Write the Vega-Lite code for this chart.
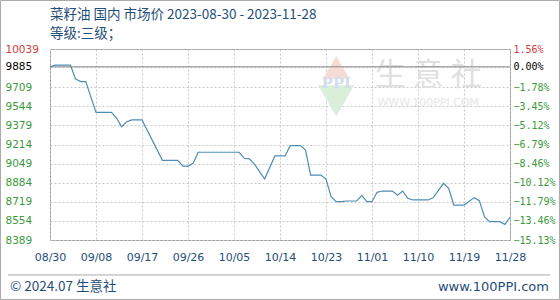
{
  "$schema": "https://vega.github.io/schema/vega-lite/v6.json",
  "width": 460,
  "height": 191,
  "autosize": {"type": "none"},
  "padding": {"left": 50, "top": 49, "right": 50, "bottom": 60},
  "background": "#ffffff",
  "title": {
    "text": "菜籽油 国内 市场价 2023-08-30 - 2023-11-28",
    "subtitle": "等级:三级；",
    "anchor": "start",
    "frame": "group",
    "font": "Noto Sans CJK SC",
    "fontSize": 13.5,
    "fontWeight": "normal",
    "color": "#1f4e79",
    "subtitleFont": "Noto Sans CJK SC",
    "subtitleFontSize": 13.5,
    "subtitleColor": "#1f4e79",
    "subtitlePadding": 6,
    "offset": -41
  },
  "config": {"view": {"stroke": "#999999"}},
  "layer": [
    {
      "data": {"values": [
        {"date": "2023-08-30T00:00", "price": 9885},
        {"date": "2023-08-31T00:00", "price": 9900},
        {"date": "2023-09-03T00:00", "price": 9900},
        {"date": "2023-09-04T00:00", "price": 9780},
        {"date": "2023-09-05T00:00", "price": 9757},
        {"date": "2023-09-06T00:00", "price": 9757},
        {"date": "2023-09-08T00:00", "price": 9492},
        {"date": "2023-09-11T00:00", "price": 9492},
        {"date": "2023-09-12T00:00", "price": 9445},
        {"date": "2023-09-13T00:00", "price": 9368},
        {"date": "2023-09-14T00:00", "price": 9411},
        {"date": "2023-09-15T00:00", "price": 9426},
        {"date": "2023-09-17T00:00", "price": 9426},
        {"date": "2023-09-21T00:00", "price": 9077},
        {"date": "2023-09-24T00:00", "price": 9077},
        {"date": "2023-09-25T00:00", "price": 9028},
        {"date": "2023-09-26T00:00", "price": 9028},
        {"date": "2023-09-27T00:00", "price": 9052},
        {"date": "2023-09-28T00:00", "price": 9147},
        {"date": "2023-10-06T00:00", "price": 9147},
        {"date": "2023-10-07T00:00", "price": 9095},
        {"date": "2023-10-08T00:00", "price": 9090},
        {"date": "2023-10-09T00:00", "price": 9045},
        {"date": "2023-10-10T00:00", "price": 8979},
        {"date": "2023-10-11T00:00", "price": 8916},
        {"date": "2023-10-13T00:00", "price": 9115},
        {"date": "2023-10-15T00:00", "price": 9115},
        {"date": "2023-10-16T00:00", "price": 9204},
        {"date": "2023-10-18T00:00", "price": 9204},
        {"date": "2023-10-19T00:00", "price": 9166},
        {"date": "2023-10-20T00:00", "price": 8950},
        {"date": "2023-10-22T00:00", "price": 8950},
        {"date": "2023-10-23T00:00", "price": 8916},
        {"date": "2023-10-24T00:00", "price": 8763},
        {"date": "2023-10-25T00:00", "price": 8720},
        {"date": "2023-10-26T00:00", "price": 8720},
        {"date": "2023-10-27T00:00", "price": 8726},
        {"date": "2023-10-29T00:00", "price": 8726},
        {"date": "2023-10-30T00:00", "price": 8775},
        {"date": "2023-10-31T00:00", "price": 8720},
        {"date": "2023-11-01T00:00", "price": 8720},
        {"date": "2023-11-02T00:00", "price": 8801},
        {"date": "2023-11-03T00:00", "price": 8812},
        {"date": "2023-11-05T00:00", "price": 8812},
        {"date": "2023-11-06T00:00", "price": 8775},
        {"date": "2023-11-07T00:00", "price": 8812},
        {"date": "2023-11-08T00:00", "price": 8749},
        {"date": "2023-11-09T00:00", "price": 8735},
        {"date": "2023-11-12T00:00", "price": 8735},
        {"date": "2023-11-13T00:00", "price": 8755},
        {"date": "2023-11-15T00:00", "price": 8879},
        {"date": "2023-11-16T00:00", "price": 8836},
        {"date": "2023-11-17T00:00", "price": 8691},
        {"date": "2023-11-19T00:00", "price": 8691},
        {"date": "2023-11-21T00:00", "price": 8755},
        {"date": "2023-11-22T00:00", "price": 8729},
        {"date": "2023-11-23T00:00", "price": 8590},
        {"date": "2023-11-24T00:00", "price": 8547},
        {"date": "2023-11-26T00:00", "price": 8547},
        {"date": "2023-11-27T00:00", "price": 8524},
        {"date": "2023-11-28T00:00", "price": 8585}
      ]},
      "layer": [
        {
          "data": {"values": [{}]},
          "mark": {"type": "point", "shape": "triangle-up", "filled": true, "color": "#f7dcd6", "size": 700, "opacity": 1},
          "encoding": {
            "x": {"datum": {"year": 2023, "month": 10, "date": 25}, "type": "temporal", "title": null},
            "y": {"datum": 9880, "type": "quantitative", "title": null}
          }
        },
        {
          "data": {"values": [{}]},
          "mark": {"type": "point", "shape": "triangle-down", "filled": true, "color": "#daefda", "size": 1300, "opacity": 1},
          "encoding": {
            "x": {"datum": {"year": 2023, "month": 10, "date": 25}, "type": "temporal", "title": null},
            "y": {"datum": 9590, "type": "quantitative", "title": null}
          }
        },
        {
          "data": {"values": [{}]},
          "mark": {"type": "text", "font": "DejaVu Serif", "fontSize": 15, "fontWeight": "bold", "color": "#d3dcea", "baseline": "middle", "align": "center"},
          "encoding": {
            "x": {"datum": {"year": 2023, "month": 10, "date": 25}, "type": "temporal", "title": null},
            "y": {"datum": 9745, "type": "quantitative", "title": null},
            "text": {"value": "PPI"}
          }
        },
        {
          "data": {"values": [{}]},
          "mark": {"type": "text", "font": "Noto Sans CJK SC", "fontSize": 31, "color": "#e0e0e0", "baseline": "middle", "align": "center"},
          "encoding": {
            "x": {"datum": {"year": 2023, "month": 11, "date": 12}, "type": "temporal", "title": null},
            "y": {"datum": 9810, "type": "quantitative", "title": null},
            "text": {"value": "生 意 社"}
          }
        },
        {
          "data": {"values": [{}]},
          "mark": {"type": "text", "font": "DejaVu Sans", "fontSize": 11, "color": "#e6e6e6", "baseline": "middle", "align": "center"},
          "encoding": {
            "x": {"datum": {"year": 2023, "month": 11, "date": 12}, "type": "temporal", "title": null},
            "y": {"datum": 9570, "type": "quantitative", "title": null},
            "text": {"value": "WWW.100PPI.COM"}
          }
        },
        {
          "data": {"values": [{}]},
          "mark": {"type": "rule", "color": "#888888", "strokeWidth": 1},
          "encoding": {
            "y": {"datum": 9885, "type": "quantitative", "title": null}
          }
        },
        {
          "mark": {"type": "line", "color": "#4f8db5", "strokeWidth": 1.2},
          "encoding": {
            "x": {
              "field": "date", "type": "temporal", "title": null,
              "scale": {"domain": [{"year": 2023, "month": 8, "date": 30}, {"year": 2023, "month": 11, "date": 28}]},
              "axis": {
                "values": [
                  {"year": 2023, "month": 8, "date": 30},
                  {"year": 2023, "month": 9, "date": 8},
                  {"year": 2023, "month": 9, "date": 17},
                  {"year": 2023, "month": 9, "date": 26},
                  {"year": 2023, "month": 10, "date": 5},
                  {"year": 2023, "month": 10, "date": 14},
                  {"year": 2023, "month": 10, "date": 23},
                  {"year": 2023, "month": 11, "date": 1},
                  {"year": 2023, "month": 11, "date": 10},
                  {"year": 2023, "month": 11, "date": 19},
                  {"year": 2023, "month": 11, "date": 28}
                ],
                "tickCount": 30,
                "format": "%m/%d",
                "ticks": false, "domain": false,
                "labelFont": "DejaVu Sans", "labelFontSize": 11, "labelColor": "#1f4e79",
                "labelPadding": 11, "labelFlush": false, "labelOverlap": false,
                "grid": true, "gridColor": "#c8c8c8", "gridDash": [2, 2]
              }
            },
            "y": {
              "field": "price", "type": "quantitative", "title": null,
              "scale": {"domain": [8389, 10039], "zero": false, "nice": false},
              "axis": {
                "values": [10039, 9885, 9709, 9544, 9379, 9214, 9049, 8884, 8719, 8554, 8389],
                "tickCount": 30,
                "format": "d",
                "orient": "left", "ticks": false, "domain": false,
                "labelAlign": "left", "labelPadding": 45, "labelBaseline": "middle",
                "labelFont": "DejaVu Sans", "labelFontSize": 10.5,
                "labelFlush": false, "labelOverlap": false,
                "labelColor": {"condition": [{"test": "datum.value > 9886", "value": "#d03c3c"}, {"test": "datum.value > 9884", "value": "#000000"}], "value": "#3a9a3a"},
                "grid": true, "gridColor": "#c8c8c8", "gridDash": [2, 2]
              }
            }
          }
        },
        {
          "data": {"values": [{}]},
          "mark": {"type": "rule", "color": "#aaaaaa", "strokeWidth": 1},
          "encoding": {
            "x": {"datum": {"year": 2023, "month": 8, "date": 21, "hours": 19}, "type": "temporal", "title": null},
            "x2": {"datum": {"year": 2023, "month": 12, "date": 5, "hours": 20}},
            "y": {"datum": 8087, "type": "quantitative", "title": null}
          }
        },
        {
          "data": {"values": [{}]},
          "mark": {"type": "rect", "fill": null, "stroke": "#aaaaaa", "strokeWidth": 1},
          "encoding": {
            "x": {"datum": {"year": 2023, "month": 8, "date": 20, "hours": 7, "minutes": 40}, "type": "temporal", "title": null},
            "x2": {"datum": {"year": 2023, "month": 12, "date": 7, "hours": 16, "minutes": 20}},
            "y": {"datum": 10458, "type": "quantitative", "title": null},
            "y2": {"datum": 7875}
          }
        },
        {
          "data": {"values": [{}]},
          "mark": {"type": "text", "font": "Noto Sans CJK SC", "fontSize": 13.5, "color": "#1f4e79", "baseline": "middle", "align": "left"},
          "encoding": {
            "x": {"datum": {"year": 2023, "month": 8, "date": 22, "hours": 4}, "type": "temporal", "title": null},
            "y": {"datum": 7983, "type": "quantitative", "title": null},
            "text": {"value": "© 2024.07 生意社"}
          }
        },
        {
          "data": {"values": [{}]},
          "mark": {"type": "text", "font": "DejaVu Sans", "fontSize": 13, "color": "#1f4e79", "baseline": "middle", "align": "right"},
          "encoding": {
            "x": {"datum": {"year": 2023, "month": 12, "date": 5, "hours": 15}, "type": "temporal", "title": null},
            "y": {"datum": 7983, "type": "quantitative", "title": null},
            "text": {"value": "www.100PPI.com"}
          }
        }
      ]
    },
    {
      "data": {"values": [{"pct": 1.56}, {"pct": -15.13}]},
      "mark": {"type": "rule", "opacity": 0},
      "encoding": {
        "y": {
          "field": "pct", "type": "quantitative", "title": null,
          "scale": {"domain": [-15.13, 1.56], "zero": false, "nice": false},
          "axis": {
            "values": [1.56, 0, -1.78, -3.45, -5.12, -6.79, -8.46, -10.12, -11.79, -13.46, -15.13],
            "tickCount": 30,
            "orient": "right", "ticks": false, "domain": false, "grid": false,
            "labelAlign": "left", "labelPadding": 3, "labelBaseline": "middle",
            "labelFont": "DejaVu Sans Mono", "labelFontSize": 10,
            "labelFlush": false, "labelOverlap": false,
            "labelExpr": "format(datum.value, '.2f') + '%'",
            "labelColor": {"condition": [{"test": "datum.value > 0.5", "value": "#d03c3c"}, {"test": "datum.value > -0.5", "value": "#000000"}], "value": "#3a9a3a"}
          }
        }
      }
    }
  ],
  "resolve": {"scale": {"y": "independent"}, "axis": {"y": "independent"}}
}
